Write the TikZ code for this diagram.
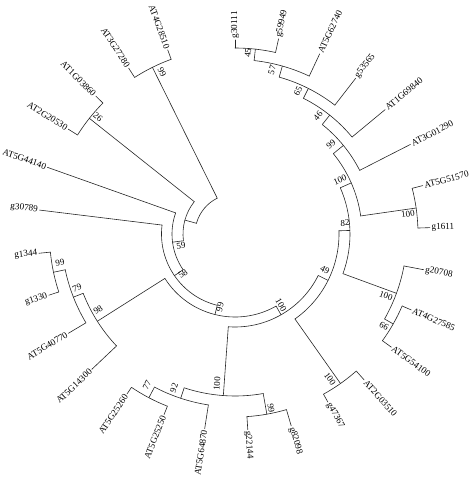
\documentclass[tikz,border=0pt]{standalone}
\usepackage{fontspec}
\setmainfont{Liberation Serif}
\newcommand{\leafsize}{\fontsize{9.2}{11}\selectfont}
\newcommand{\bootsize}{\fontsize{9}{10}\selectfont}
\tikzset{
  branch/.style={line width=0.6pt, line cap=round, black!85},
  leafR/.style={anchor=west, inner sep=1.5pt, font=\leafsize},
  leafL/.style={anchor=east, inner sep=1.5pt, font=\leafsize},
  boot/.style={inner sep=0pt, font=\bootsize},
}
\begin{document}
\begin{tikzpicture}[x=1pt, y=1pt]
\useasboundingbox (-235,-243) rectangle (239,234);
% inner spiral
\draw[branch] (-195.50:40) arc[start angle=-195.50, end angle=-243.64, radius=40];
\coordinate (p2) at (-195.50:52);
\draw[branch] (-195.50:40) -- (p2);
\draw[branch] (-172.53:52) arc[start angle=-172.53, end angle=-218.46, radius=52];
\coordinate (p3) at (-172.53:63);
\draw[branch] (-172.53:52) -- (p3);
\draw[branch] (-145.48:63) arc[start angle=-145.48, end angle=-199.57, radius=63];
\coordinate (p4) at (-145.48:73.5);
\draw[branch] (-145.48:63) -- (p4);
\draw[branch] (-103.98:73.5) arc[start angle=-103.98, end angle=-186.98, radius=73.5];
\coordinate (p5) at (-103.98:83);
\draw[branch] (-103.98:73.5) -- (p5);
\draw[branch] (-60.32:83) arc[start angle=-60.32, end angle=-147.64, radius=83];
\coordinate (p6) at (-60.32:93);
\draw[branch] (-60.32:83) -- (p6);
\draw[branch] (-26.51:93) arc[start angle=-26.51, end angle=-94.13, radius=93];
\coordinate (p7) at (-26.51:104);
\draw[branch] (-26.51:93) -- (p7);
\draw[branch] (1.77:104) arc[start angle=1.77, end angle=-54.79, radius=104];
\coordinate (p8) at (1.77:115);
\draw[branch] (1.77:104) -- (p8);
\draw[branch] (23.71:115) arc[start angle=23.71, end angle=-20.17, radius=115];
% upper right clade
\coordinate (n100a) at (23.71:127);
\draw[branch] (23.71:115) -- (n100a);
\draw[branch] (39.25:127) arc[start angle=39.25, end angle=8.17, radius=127];
\coordinate (n99h) at (39.25:140);
\draw[branch] (39.25:127) -- (n99h);
\draw[branch] (51.44:140) arc[start angle=51.44, end angle=27.05, radius=140];
\coordinate (n46) at (51.44:152);
\draw[branch] (51.44:140) -- (n46);
\draw[branch] (63.25:152) arc[start angle=63.25, end angle=39.64, radius=152];
\coordinate (n65) at (63.25:163);
\draw[branch] (63.25:152) -- (n65);
\draw[branch] (74.26:163) arc[start angle=74.26, end angle=52.23, radius=163];
\coordinate (n57) at (74.26:174.5);
\draw[branch] (74.26:163) -- (n57);
\draw[branch] (83.71:174.5) arc[start angle=83.71, end angle=64.82, radius=174.5];
\coordinate (n45) at (83.71:186);
\draw[branch] (83.71:174.5) -- (n45);
\draw[branch] (90:186) arc[start angle=90, end angle=77.41, radius=186];
\coordinate (n100b) at (8.17:183);
\draw[branch] (8.17:127) -- (n100b);
\draw[branch] (14.46:183) arc[start angle=14.46, end angle=1.87, radius=183];
% right clades
\coordinate (n100c) at (-20.17:172);
\draw[branch] (-20.17:115) -- (n100c);
\draw[branch] (-10.72:172) arc[start angle=-10.72, end angle=-29.61, radius=172];
\coordinate (n66) at (-29.61:182);
\draw[branch] (-29.61:172) -- (n66);
\draw[branch] (-23.31:182) arc[start angle=-23.31, end angle=-35.90, radius=182];
\coordinate (n100d) at (-54.79:183);
\draw[branch] (-54.79:104) -- (n100d);
\draw[branch] (-48.49:183) arc[start angle=-48.49, end angle=-61.08, radius=183];
% bottom clade
\coordinate (n100e) at (-94.13:162);
\draw[branch] (-94.13:93) -- (n100e);
\draw[branch] (-79.97:162) arc[start angle=-79.97, end angle=-108.29, radius=162];
\coordinate (n99i) at (-79.97:183);
\draw[branch] (-79.97:162) -- (n99i);
\draw[branch] (-73.67:183) arc[start angle=-73.67, end angle=-86.26, radius=183];
\coordinate (n92) at (-108.29:173);
\draw[branch] (-108.29:162) -- (n92);
\draw[branch] (-98.85:173) arc[start angle=-98.85, end angle=-117.74, radius=173];
\coordinate (n77) at (-117.74:185);
\draw[branch] (-117.74:173) -- (n77);
\draw[branch] (-111.44:185) arc[start angle=-111.44, end angle=-124.03, radius=185];
% left clades
\coordinate (n98) at (-147.64:163);
\draw[branch] (-147.64:83) -- (n98);
\draw[branch] (-136.62:163) arc[start angle=-136.62, end angle=-158.66, radius=163];
\coordinate (n79) at (-158.66:173.5);
\draw[branch] (-158.66:163) -- (n79);
\draw[branch] (-149.21:173.5) arc[start angle=-149.21, end angle=-168.10, radius=173.5];
\coordinate (n99f) at (-168.10:185.5);
\draw[branch] (-168.10:173.5) -- (n99f);
\draw[branch] (-161.80:185.5) arc[start angle=-161.80, end angle=-174.39, radius=185.5];
\coordinate (n26) at (-218.46:186);
\draw[branch] (-218.46:52) -- (n26);
\draw[branch] (-212.16:186) arc[start angle=-212.16, end angle=-224.75, radius=186];
\coordinate (n99g) at (-243.64:186);
\draw[branch] (-243.64:40) -- (n99g);
\draw[branch] (-237.34:186) arc[start angle=-237.34, end angle=-249.93, radius=186];
% leaves
\node[leafR, rotate=90] (g30111) at (90:194) {g30111};
\node[leafR, rotate=77.41] (g59949) at (77.41:200) {g59949};
\node[leafR, rotate=64.82] (at5g62740) at (64.82:199) {AT5G62740};
\node[leafR, rotate=52.23] (g53565) at (52.23:197) {g53565};
\node[leafR, rotate=39.64] (at1g69840) at (39.64:195) {AT1G69840};
\node[leafR, rotate=27.05] (at3g01290) at (27.05:197) {AT3G01290};
\node[leafR, rotate=14.46] (at5g51570) at (14.46:194) {AT5G51570};
\node[leafR, rotate=1.87] (g1611) at (1.87:195) {g1611};
\node[leafR, rotate=-10.72] (g20708) at (-10.72:192) {g20708};
\node[leafR, rotate=-23.31] (at4g27585) at (-23.31:192) {AT4G27585};
\node[leafR, rotate=-35.90] (at5g54100) at (-35.90:193) {AT5G54100};
\node[leafR, rotate=-48.49] (at2g03510) at (-48.49:195) {AT2G03510};
\node[leafR, rotate=-61.08] (g47367) at (-61.08:192) {g47367};
\node[leafR, rotate=-73.67] (g82098) at (-73.67:200) {g82098};
\node[leafR, rotate=-86.26] (g22144) at (-86.26:196) {g22144};
\node[leafL, rotate=81.15] (at5g64870) at (-98.85:197) {AT5G64870};
\node[leafL, rotate=68.56] (at5g25250) at (-111.44:194) {AT5G25250};
\node[leafL, rotate=55.97] (at5g25260) at (-124.03:193) {AT5G25260};
\node[leafL, rotate=43.38] (at5g14300) at (-136.62:197) {AT5G14300};
\node[leafL, rotate=30.79] (at5g40770) at (-149.21:194) {AT5G40770};
\node[leafL, rotate=18.20] (g1330) at (-161.80:196) {g1330};
\node[leafL, rotate=5.61] (g1344) at (-174.39:197) {g1344};
\node[leafL, rotate=-6.98] (g30789) at (-186.98:197) {g30789};
\node[leafL, rotate=-19.57] (at5g44140) at (-199.57:199) {AT5G44140};
\node[leafL, rotate=-32.16] (at2g20530) at (-212.16:197) {AT2G20530};
\node[leafL, rotate=-44.75] (at1g03860) at (-224.75:196) {AT1G03860};
\node[leafL, rotate=-57.34] (at3g27280) at (-237.34:197) {AT3G27280};
\node[leafL, rotate=-69.93] (at4g28510) at (-249.93:196) {AT4G28510};
\draw[branch] (90:186) -- (g30111);
\draw[branch] (77.41:186) -- (g59949);
\draw[branch] (64.82:174.5) -- (at5g62740);
\draw[branch] (52.23:163) -- (g53565);
\draw[branch] (39.64:152) -- (at1g69840);
\draw[branch] (27.05:140) -- (at3g01290);
\draw[branch] (14.46:183) -- (at5g51570);
\draw[branch] (1.87:183) -- (g1611);
\draw[branch] (-10.72:172) -- (g20708);
\draw[branch] (-23.31:182) -- (at4g27585);
\draw[branch] (-35.90:182) -- (at5g54100);
\draw[branch] (-48.49:183) -- (at2g03510);
\draw[branch] (-61.08:183) -- (g47367);
\draw[branch] (-73.67:183) -- (g82098);
\draw[branch] (-86.26:183) -- (g22144);
\draw[branch] (-98.85:173) -- (at5g64870);
\draw[branch] (-111.44:185) -- (at5g25250);
\draw[branch] (-124.03:185) -- (at5g25260);
\draw[branch] (-136.62:163) -- (at5g14300);
\draw[branch] (-149.21:173.5) -- (at5g40770);
\draw[branch] (-161.80:185.5) -- (g1330);
\draw[branch] (-174.39:185.5) -- (g1344);
\draw[branch] (-186.98:73.5) -- (g30789);
\draw[branch] (-199.57:63) -- (at5g44140);
\draw[branch] (-212.16:186) -- (at2g20530);
\draw[branch] (-224.75:186) -- (at1g03860);
\draw[branch] (-237.34:186) -- (at3g27280);
\draw[branch] (-249.93:186) -- (at4g28510);
% bootstrap values
\node[boot, rotate=83.7] (b45) at (13,181) {45};
\node[boot, rotate=74.3] (b57) at (37,164) {57};
\node[boot, rotate=63.3] (b65) at (63,143) {65};
\node[boot, rotate=51.4] (b46) at (83,118) {46};
\node[boot, rotate=39.3] (b99h) at (96,90) {99};
\node[boot, rotate=23.7] (b100a) at (105,54) {100};
\node[boot, rotate=1.8] (b82) at (110,11) {82};
\node[boot, rotate=8.2] (b100b) at (173,20) {100};
\node[boot, rotate=-26.5] (b49) at (90,-36) {49};
\node[boot, rotate=-20.2] (b100c) at (151,-62) {100};
\node[boot, rotate=-29.6] (b66) at (149,-92) {66};
\node[boot, rotate=-54.8] (b100d) at (95,-145) {100};
\node[boot, rotate=-60.3] (b100f) at (46,-71) {100};
\node[boot, rotate=-80] (b99i) at (36,-174) {99};
\node[boot, rotate=76] (b99p) at (-15,-73) {99};
\node[boot, rotate=34.5] (b58) at (-52,-40) {58};
\node[boot, rotate=7.5] (b59) at (-54,-12) {59};
\node[boot, rotate=32.4] (b98) at (-137,-76) {98};
\node[boot, rotate=21.3] (b79) at (-158,-54) {79};
\node[boot, rotate=11.9] (b99f) at (-175,-29) {99};
\node[boot, rotate=85.9] (b100e) at (-18,-150) {100};
\node[boot, rotate=71.7] (b92) at (-61,-154) {92};
\node[boot, rotate=62.3] (b77) at (-88,-151) {77};
\node[boot, rotate=-38.5] (b26) at (-137,117) {26};
\node[boot, rotate=-63.6] (b99g) at (-73,162) {99};
\end{tikzpicture}
\end{document}
